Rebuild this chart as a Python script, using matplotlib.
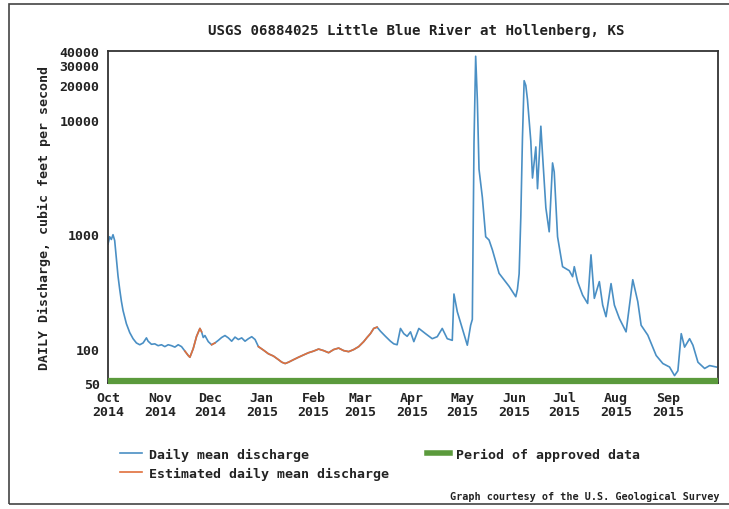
import pandas as pd
import matplotlib
matplotlib.use("Agg")
import matplotlib.pyplot as plt
import matplotlib.dates as mdates
from matplotlib.patches import Rectangle

dates = [
    "2014-10-01", "2014-10-02", "2014-10-03", "2014-10-04", "2014-10-05", "2014-10-06",
    "2014-10-07", "2014-10-08", "2014-10-09", "2014-10-10", "2014-10-12", "2014-10-14",
    "2014-10-16", "2014-10-18", "2014-10-20", "2014-10-22", "2014-10-24", "2014-10-25",
    "2014-10-27", "2014-10-29", "2014-10-31", "2014-11-02", "2014-11-04", "2014-11-06",
    "2014-11-08", "2014-11-10", "2014-11-12", "2014-11-14", "2014-11-16", "2014-11-18",
    "2014-11-19", "2014-11-21", "2014-11-23", "2014-11-25", "2014-11-26", "2014-11-27",
    "2014-11-28", "2014-11-30", "2014-12-02", "2014-12-04", "2014-12-06", "2014-12-08",
    "2014-12-10", "2014-12-12", "2014-12-14", "2014-12-16", "2014-12-18", "2014-12-20",
    "2014-12-22", "2014-12-24", "2014-12-26", "2014-12-28", "2014-12-30", "2015-01-02",
    "2015-01-05", "2015-01-08", "2015-01-11", "2015-01-13", "2015-01-15", "2015-01-17",
    "2015-01-20", "2015-01-23", "2015-01-26", "2015-01-29", "2015-02-01", "2015-02-04",
    "2015-02-07", "2015-02-10", "2015-02-13", "2015-02-16", "2015-02-19", "2015-02-22",
    "2015-02-25", "2015-02-28", "2015-03-03", "2015-03-05", "2015-03-07", "2015-03-09",
    "2015-03-11", "2015-03-13", "2015-03-16", "2015-03-19", "2015-03-21", "2015-03-23",
    "2015-03-25", "2015-03-27", "2015-03-29", "2015-03-31", "2015-04-02", "2015-04-05",
    "2015-04-09", "2015-04-13", "2015-04-16", "2015-04-19", "2015-04-22", "2015-04-25",
    "2015-04-26", "2015-04-28", "2015-05-01", "2015-05-04", "2015-05-06", "2015-05-07",
    "2015-05-08", "2015-05-09", "2015-05-10", "2015-05-11", "2015-05-13", "2015-05-15",
    "2015-05-17", "2015-05-19", "2015-05-23", "2015-05-29", "2015-06-02", "2015-06-03",
    "2015-06-04", "2015-06-05", "2015-06-06", "2015-06-07", "2015-06-08", "2015-06-09",
    "2015-06-11", "2015-06-12", "2015-06-14", "2015-06-15", "2015-06-17", "2015-06-18",
    "2015-06-20", "2015-06-22", "2015-06-24", "2015-06-25", "2015-06-27", "2015-06-30",
    "2015-07-04", "2015-07-06", "2015-07-07", "2015-07-09", "2015-07-12", "2015-07-15",
    "2015-07-17", "2015-07-19", "2015-07-22", "2015-07-24", "2015-07-26", "2015-07-29",
    "2015-07-31", "2015-08-03", "2015-08-07", "2015-08-11", "2015-08-14", "2015-08-16",
    "2015-08-20", "2015-08-25", "2015-08-29", "2015-09-02", "2015-09-05", "2015-09-07",
    "2015-09-09", "2015-09-11", "2015-09-14", "2015-09-16", "2015-09-19", "2015-09-23",
    "2015-09-26", "2015-09-30",
]
discharge = [
    820, 950, 900, 990, 880, 620,
    430, 330, 260, 215, 165, 138,
    122, 112, 108, 112, 124, 116,
    109, 110, 106, 108, 104, 108,
    106, 103, 108, 104, 95, 87,
    84, 100, 128, 150, 140, 125,
    130, 115, 108, 112, 118, 125,
    130, 124, 116, 126, 120, 124,
    116, 122, 127, 120, 104, 97,
    90, 86, 80, 76, 74, 76,
    80, 84, 88, 92, 95, 99,
    96, 92, 98, 101, 96, 94,
    98, 104, 115, 125, 135, 150,
    154, 142, 128, 116, 110, 108,
    150, 135, 128, 140, 115, 150,
    135, 122, 127, 150, 122, 118,
    300, 210, 150, 107, 160, 180,
    6300, 36000, 15000, 3700, 2100, 950,
    890, 730, 455, 350, 284, 330,
    450, 1400, 7000, 22000, 20000, 15000,
    6500, 3100, 5800, 2500, 8800, 5000,
    1700, 1050, 4200, 3500, 950, 520,
    480, 425, 520, 385, 293, 248,
    660, 275, 385, 240, 190, 370,
    240, 183, 140, 400, 257, 160,
    131, 87, 74, 69, 58, 64,
    135, 103, 122, 107, 76, 67,
    71, 69,
]

# Periods flagged as estimated (ice affected)
est_start = ["2014-11-16", "2014-12-02", "2014-12-30"]
est_end = ["2014-11-26", "2014-12-04", "2015-03-11"]

approved_start = "2014-10-01"
approved_end = "2015-10-01"

y_ticks = [50, 100, 1000, 10000, 20000, 30000, 40000]

df = pd.DataFrame({"date": pd.to_datetime(dates), "q": discharge})

font = "DejaVu Sans Mono"
txt = "#222222"
blue = "#4a8fc4"
orange = "#e0703c"
green = "#5b9a3c"

fig = plt.figure(figsize=(7.29, 5.10), dpi=100)
ax = fig.add_axes([108 / 729, 1 - 384 / 510, 610 / 729, 332 / 510])

ax.plot(df["date"], df["q"], color=blue, lw=1.2)
for s, e in zip(est_start, est_end):
    seg = df[(df["date"] >= s) & (df["date"] <= e)]
    ax.plot(seg["date"], seg["q"], color=orange, lw=1.2)

ax.hlines(52, pd.Timestamp(approved_start), pd.Timestamp(approved_end),
          color=green, lw=4.5, clip_on=False, zorder=3)

ax.set_yscale("log")
ax.set_ylim(50, 40000)
ax.set_xlim(pd.Timestamp("2014-10-01"), pd.Timestamp("2015-10-01"))
ax.set_yticks(y_ticks)
ax.set_yticklabels([str(v) for v in y_ticks])
ax.yaxis.set_minor_locator(matplotlib.ticker.NullLocator())
# month starts, Oct 2014 .. Sep 2015 (Oct 2015 not labelled)
ax.set_xticks(pd.date_range("2014-10-01", "2015-09-01", freq="MS"))
ax.xaxis.set_major_formatter(mdates.DateFormatter("%b\n%Y"))
ax.tick_params(length=0, pad=6, labelcolor=txt)
for lab in ax.get_xticklabels() + ax.get_yticklabels():
    lab.set_fontfamily(font)
    lab.set_fontweight("bold")
    lab.set_fontsize(9.5)
    lab.set_linespacing(1.1)

for sp in ax.spines.values():
    sp.set_color("#333333")
    sp.set_linewidth(1.3)

ax.set_ylabel("DAILY Discharge, cubic feet per second", family=font,
              fontweight="bold", fontsize=9.5, color=txt, labelpad=6)
fig.text(416 / 729, 1 - 31 / 510, "USGS 06884025 Little Blue River at Hollenberg, KS",
         ha="center", va="center", family=font, fontweight="bold", fontsize=10.2, color=txt)

handles = [
    plt.Line2D([], [], color=blue, lw=1.2),
    plt.Line2D([], [], color=orange, lw=1.2),
    plt.Line2D([], [], color=green, lw=4),
]
names = ["Daily mean discharge", "Estimated daily mean discharge",
         "Period of approved data"]
leg = fig.legend(handles, names, loc="upper left", ncol=2,
                 bbox_to_anchor=(108 / 729, 1 - 437 / 510), frameon=False,
                 handlelength=1.7, handletextpad=0.5, columnspacing=2.9,
                 labelspacing=0.45, prop={"family": font, "weight": "bold", "size": 9.5})
for t in leg.get_texts():
    t.set_color(txt)

fig.text(450 / 729, 1 - 497 / 510, "Graph courtesy of the U.S. Geological Survey",
         ha="left", va="center", family=font, fontweight="bold", fontsize=7.3, color=txt)

# outer frame of the graph image
fig.patches.append(Rectangle((9 / 729, 5 / 510), 740 / 729, 500 / 510,
                             transform=fig.transFigure, fill=False,
                             edgecolor="#444444", lw=1.2))

fig.savefig("out.png", dpi=100)
